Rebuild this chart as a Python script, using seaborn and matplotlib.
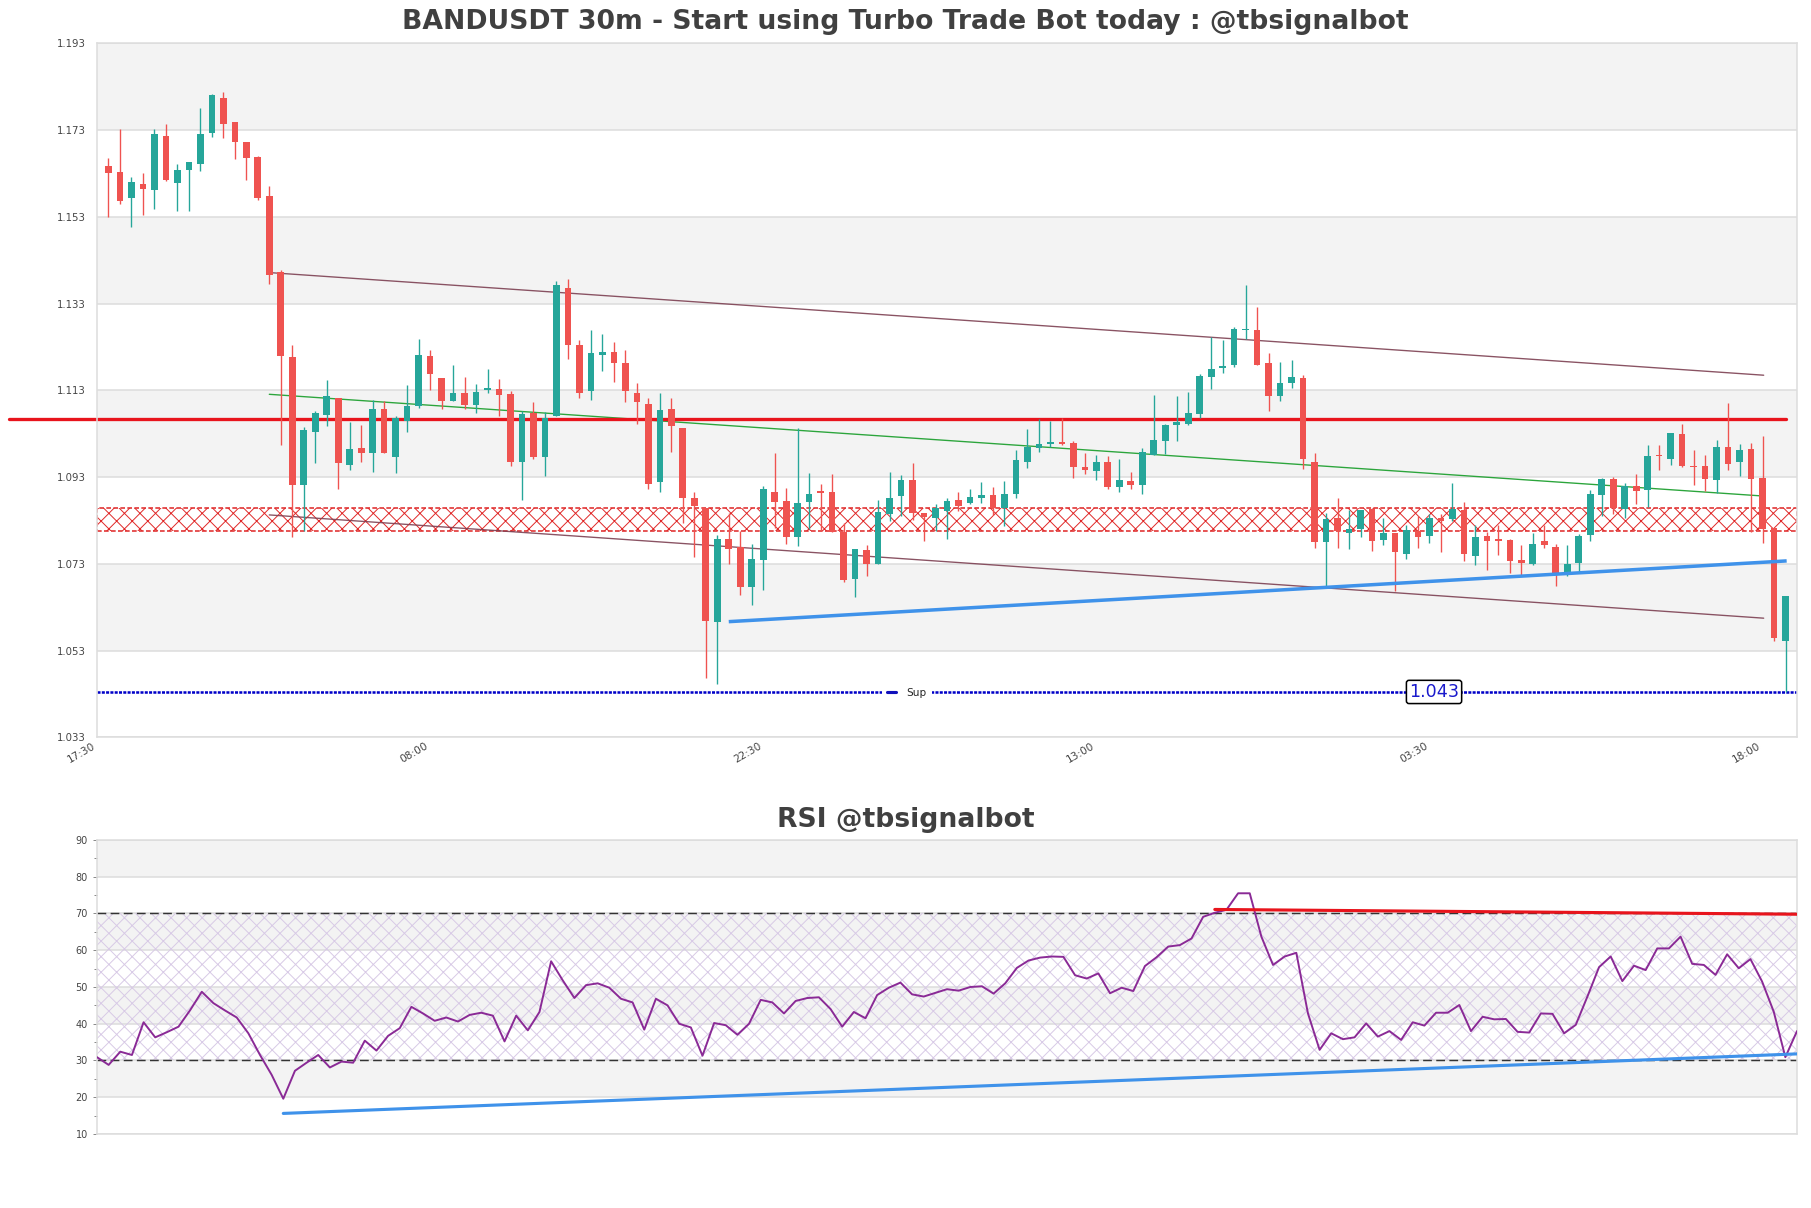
import numpy as np
import matplotlib
matplotlib.use("Agg")
import matplotlib.pyplot as plt
import seaborn as sns
from matplotlib.lines import Line2D

# ---------------- data ----------------
opens = [1.1648,1.1634,1.1574,1.1605,1.1592,1.1717,1.1608,1.1638,1.1652,1.1724,
         1.1803,1.1748,1.1702,1.1669,1.1579,1.1404,1.1208,1.0912,1.1033,1.1073,
         1.1113,1.0958,1.0998,1.0985,1.1086,1.0977,1.1060,1.1093,1.1209,1.1159,
         1.1106,1.1125,1.1096,1.1132,1.1133,1.1121,1.0966,1.1077,1.0977,1.1071,
         1.1365,1.1234,1.1129,1.1212,1.1219,1.1194,1.1125,1.1098,1.0919,1.1088,
         1.1044,1.0883,1.0858,1.0597,1.0787,1.0768,1.0676,1.0739,1.0895,1.0874,
         1.0792,1.0873,1.0898,1.0895,1.0804,1.0695,1.0762,1.0729,1.0845,1.0887,
         1.0923,1.0847,1.0835,1.0852,1.0877,1.0870,1.0881,1.0888,1.0860,1.0891,
         1.0964,1.0998,1.1007,1.1012,1.1008,1.0954,1.0944,1.0966,1.0908,1.0921,
         1.0912,1.0981,1.1014,1.1050,1.1052,1.1075,1.1162,1.1182,1.1189,1.1269,
         1.1269,1.1193,1.1117,1.1148,1.1158,1.0964,1.0781,1.0835,1.0802,1.0810,
         1.0856,1.0785,1.0802,1.0754,1.0805,1.0795,1.0836,1.0833,1.0855,1.0748,
         1.0794,1.0787,1.0786,1.0738,1.0731,1.0783,1.0769,1.0709,1.0733,1.0796,
         1.0890,1.0926,1.0857,1.0910,1.0900,1.0980,1.0971,1.1030,1.0956,1.0956,
         1.0923,1.1000,1.0965,1.0996,1.0929,1.0813,1.0552]
highs = [1.1665,1.1732,1.1621,1.1632,1.1732,1.1745,1.1651,1.1657,1.1780,1.1814,
         1.1817,1.1748,1.1702,1.1671,1.1602,1.1407,1.1235,1.1046,1.1082,1.1153,
         1.1113,1.1058,1.1050,1.1108,1.1106,1.1072,1.1142,1.1248,1.1223,1.1159,
         1.1188,1.1162,1.1144,1.1179,1.1156,1.1129,1.1083,1.1104,1.1080,1.1381,
         1.1386,1.1246,1.1269,1.1259,1.1242,1.1222,1.1148,1.1113,1.1125,1.1113,
         1.1044,1.0895,1.0858,1.0797,1.0848,1.0806,1.0775,1.0910,1.0985,1.0906,
         1.1044,1.0939,1.0915,1.0937,1.0825,1.0765,1.0773,1.0877,1.0942,1.0935,
         1.0962,1.0848,1.0868,1.0883,1.0895,1.0902,1.0918,1.0908,1.0921,1.0992,
         1.1042,1.1065,1.1060,1.1067,1.1014,1.0985,1.0982,1.0979,1.0971,1.0942,
         1.0998,1.1119,1.1052,1.1117,1.1127,1.1167,1.1253,1.1246,1.1275,1.1373,
         1.1323,1.1217,1.1196,1.1200,1.1165,1.0985,1.0848,1.0881,1.0855,1.0854,
         1.0858,1.0835,1.0802,1.0819,1.0841,1.0845,1.0846,1.0917,1.0873,1.0819,
         1.0804,1.0819,1.0788,1.0773,1.0802,1.0819,1.0777,1.0773,1.0798,1.0901,
         1.0929,1.0930,1.0917,1.0938,1.1005,1.1005,1.1032,1.1053,1.0992,1.0982,
         1.1016,1.1102,1.1007,1.1009,1.1025,1.0813,1.0656]
lows = [1.1530,1.1560,1.1506,1.1534,1.1548,1.1612,1.1543,1.1543,1.1636,1.1714,
        1.1711,1.1663,1.1615,1.1569,1.1376,1.1004,1.0791,1.0806,1.0962,1.1048,
        1.0903,1.0947,1.0966,1.0943,1.0985,1.0939,1.1035,1.1090,1.1131,1.1087,
        1.1106,1.1088,1.1077,1.1123,1.1071,1.0956,1.0878,1.0973,1.0933,1.1071,
        1.1202,1.1113,1.1107,1.1175,1.1150,1.1103,1.1052,1.0902,1.0896,1.0988,
        1.0825,1.0747,1.0468,1.0454,1.0729,1.0658,1.0636,1.0671,1.0812,1.0775,
        1.0772,1.0810,1.0806,1.0803,1.0689,1.0654,1.0703,1.0729,1.0829,1.0841,
        1.0832,1.0783,1.0806,1.0787,1.0852,1.0868,1.0871,1.0842,1.0818,1.0881,
        1.0950,1.0988,1.1000,1.1004,1.0927,1.0938,1.0924,1.0902,1.0895,1.0902,
        1.0892,1.0981,1.0983,1.1014,1.1050,1.1067,1.1133,1.1169,1.1185,1.1249,
        1.1189,1.1083,1.1106,1.1135,1.0948,1.0766,1.0676,1.0766,1.0764,1.0791,
        1.0760,1.0774,1.0668,1.0741,1.0766,1.0778,1.0757,1.0830,1.0736,1.0728,
        1.0715,1.0750,1.0708,1.0705,1.0727,1.0767,1.0679,1.0702,1.0708,1.0784,
        1.0840,1.0846,1.0836,1.0869,1.0861,1.0946,1.0959,1.0953,1.0911,1.0897,
        1.0894,1.0946,1.0932,1.0804,1.0778,1.0552,1.0435]
closes = [1.1631,1.1566,1.1611,1.1594,1.1720,1.1615,1.1639,1.1657,1.1722,1.1811,
          1.1744,1.1703,1.1666,1.1574,1.1396,1.1210,1.0912,1.1039,1.1077,1.1116,
          1.0962,1.0994,1.0985,1.1086,1.0985,1.1066,1.1095,1.1212,1.1167,1.1106,
          1.1125,1.1096,1.1127,1.1136,1.1119,1.0966,1.1075,1.0977,1.1066,1.1372,
          1.1234,1.1125,1.1216,1.1219,1.1193,1.1129,1.1103,1.0914,1.1084,1.1048,
          1.0883,1.0864,1.0599,1.0787,1.0764,1.0676,1.0742,1.0902,1.0873,1.0792,
          1.0871,1.0892,1.0894,1.0804,1.0693,1.0764,1.0729,1.0850,1.0883,1.0923,
          1.0847,1.0838,1.0860,1.0874,1.0864,1.0885,1.0890,1.0860,1.0891,1.0969,
          1.1000,1.1007,1.1010,1.1006,1.0954,1.0947,1.0965,1.0908,1.0923,1.0913,
          1.0987,1.1015,1.1050,1.1057,1.1077,1.1163,1.1179,1.1186,1.1271,1.1271,
          1.1189,1.1117,1.1146,1.1160,1.0971,1.0781,1.0833,1.0805,1.0810,1.0854,
          1.0783,1.0802,1.0758,1.0808,1.0793,1.0835,1.0830,1.0857,1.0752,1.0792,
          1.0782,1.0784,1.0736,1.0732,1.0777,1.0773,1.0709,1.0731,1.0794,1.0892,
          1.0926,1.0859,1.0910,1.0897,1.0979,1.0978,1.1032,1.0955,1.0954,1.0925,
          1.1000,1.0960,1.0993,1.0925,1.0811,1.0559,1.0656]

rsi_values = [30.9,28.8,32.4,31.5,40.4,36.3,37.7,39.2,43.7,48.7,
              45.6,43.6,41.7,37.4,31.5,26.1,19.6,27.2,29.4,31.5,
              28.1,29.7,29.4,35.4,32.7,36.7,38.8,44.6,42.8,40.8,
              41.7,40.6,42.4,43.0,42.2,35.2,42.2,38.2,43.2,57.0,
              51.8,47.0,50.5,51.0,49.8,46.8,45.8,38.4,46.8,45.0,
              40.0,39.0,31.3,40.2,39.6,37.0,40.0,46.5,45.8,42.8,
              46.2,47.0,47.2,44.0,39.2,43.2,41.5,47.8,49.8,51.2,
              48.0,47.4,48.4,49.4,49.0,50.0,50.2,48.2,51.0,55.2,
              57.2,58.0,58.3,58.2,53.2,52.3,53.7,48.3,49.8,48.9,
              55.7,58.1,61.0,61.4,63.2,69.1,70.2,71.0,75.5,75.5,
              63.7,56.0,58.3,59.3,42.8,32.9,37.4,35.8,36.3,40.1,
              36.5,38.0,35.6,40.4,39.5,43.0,43.0,45.1,38.0,41.9,
              41.2,41.3,37.8,37.6,42.8,42.7,37.4,39.7,47.4,55.4,
              58.3,51.6,55.8,54.6,60.5,60.5,63.7,56.3,56.0,53.3,
              58.9,55.1,57.6,51.5,43.3,30.9,38.0]

time_labels = ["17:30", "08:00", "22:30", "13:00", "03:30", "18:00"]
time_label_index = [0, 29, 58, 87, 116, 145]
price_ticks = [1.033, 1.053, 1.073, 1.093, 1.113, 1.133, 1.153, 1.173, 1.193]
rsi_ticks = [10, 20, 30, 40, 50, 60, 70, 80, 90]

resistance_level = 1.1064
resistance_x = [-7.7, 147.0]
support_level = 1.0435
support_label = "1.043"
support_label_x = 116.4
zone_low, zone_high = 1.0805, 1.0860
channel_upper_x, channel_upper_y = [15.3, 145.1], [1.1401, 1.1165]
channel_lower_x, channel_lower_y = [15.0, 145.1], [1.0843, 1.0605]
green_trend_x, green_trend_y = [15.0, 144.8], [1.1121, 1.0887]
blue_trend_x, blue_trend_y = [55.0, 147.1], [1.0597, 1.0737]
rsi_res_x, rsi_res_y = [96.0, 146.0], [71.1, 69.8]
rsi_sup_x, rsi_sup_y = [16.0, 146.0], [15.6, 31.8]

# ---------------- style ----------------
sns.set_theme(style="white")
plt.rcParams["font.family"] = ["DejaVu Sans"]
plt.rcParams["hatch.linewidth"] = 0.5

GREEN = "#26a69a"
RED = "#ef5350"
BAND = "#f3f3f3"
GRID = "#dddddd"
TXT = "#444444"

fig = plt.figure(figsize=(1811 / 140, 1208 / 140), dpi=140)
ax = fig.add_axes([0.05356, 0.38949, 0.93871, 0.57467])
ax2 = fig.add_axes([0.05356, 0.06126, 0.93871, 0.24338])

# ---------------- main price chart ----------------
o = np.array(opens); h = np.array(highs); l = np.array(lows); c = np.array(closes)
x = np.arange(1, len(o) + 1)
cols = np.where(c >= o, GREEN, RED)

for lo_, hi_ in zip(price_ticks[:-1], price_ticks[1:]):
    if round((hi_ - 1.033) / 0.02) % 2 == 0:
        ax.axhspan(lo_, hi_, color=BAND, lw=0, zorder=0)

ax.axhspan(zone_low, zone_high, facecolor="none", edgecolor="#e02828",
           hatch="xxx", lw=0.8, ls=(0, (3, 1.5)), zorder=1.2)

ax.plot(channel_upper_x, channel_upper_y, color="#7d4052", lw=0.7, alpha=0.9, zorder=2)
ax.plot(channel_lower_x, channel_lower_y, color="#7d4052", lw=0.7, alpha=0.9, zorder=2)
ax.plot(green_trend_x, green_trend_y, color="#2ca53c", lw=0.7, zorder=2)
ax.axhline(support_level, color="#0000c8", lw=1.3, ls=(0, (1.2, 0.5)), zorder=2)

ax.vlines(x, l, h, colors=cols, lw=0.7, zorder=3)
ax.bar(x, np.maximum(np.abs(c - o), 0.00018), bottom=np.minimum(o, c),
       width=0.58, color=cols, lw=0, zorder=4)

ax.plot(resistance_x, [resistance_level, resistance_level], color="#e8141c",
        lw=1.7, zorder=2.5, clip_on=False)
ax.plot(blue_trend_x, blue_trend_y, color="#3f92ea", lw=1.8, zorder=5,
        solid_capstyle="butt")

ax.text(support_label_x, support_level, support_label, color="#1a1acc",
        fontsize=9, ha="center", va="center", zorder=6,
        bbox=dict(boxstyle="round,pad=0.15", fc="white", ec="black", lw=0.8))

leg = ax.legend(handles=[Line2D([0], [0], color="#1010bb", lw=1.6)], labels=["Sup"],
                loc="center", bbox_to_anchor=(0.4763, 0.0641), fontsize=5.4,
                frameon=True, handlelength=0.9, handletextpad=1.0,
                borderpad=0.45, borderaxespad=0, fancybox=False)
leg.get_frame().set_facecolor("white")
leg.get_frame().set_edgecolor("none")
leg.get_frame().set_alpha(1)
leg.set_zorder(7)

ax.set_xlim(0, 148)
ax.set_ylim(price_ticks[0], price_ticks[-1])
ax.set_yticks(price_ticks)
ax.set_yticklabels([f"{v:.3f}" for v in price_ticks])
ax.set_xticks(time_label_index)
ax.set_xticklabels(time_labels, rotation=30, ha="right")
ax.tick_params(axis="y", length=0, pad=6, labelsize=5.2, labelcolor=TXT)
ax.tick_params(axis="x", length=0, pad=1.5, labelsize=5.4, labelcolor=TXT)
ax.grid(axis="y", color=GRID, lw=0.8)
ax.grid(axis="x", visible=False)
ax.set_axisbelow(True)
for s in ax.spines.values():
    s.set_color(GRID)
    s.set_linewidth(0.8)

# ---------------- RSI panel ----------------
for lo_ in [20, 40, 60, 80]:
    ax2.axhspan(lo_, lo_ + 10, color=BAND, lw=0, zorder=0)
ax2.axhspan(30, 70, facecolor="none", edgecolor="#d8cae6", hatch="xxx", lw=0, zorder=0.6)
ax2.axhline(70, color="#333333", lw=0.75, ls=(0, (6, 3)), zorder=2)
ax2.axhline(30, color="#333333", lw=0.75, ls=(0, (6, 3)), zorder=2)

rsi_x = np.arange(len(rsi_values))
sns.lineplot(x=rsi_x, y=rsi_values, ax=ax2, color="#8a2a96", lw=1.0, zorder=3)
ax2.plot(rsi_res_x, rsi_res_y, color="#e8141c", lw=1.6, zorder=4)
ax2.plot(rsi_sup_x, rsi_sup_y, color="#3f92ea", lw=1.6, zorder=4)

ax2.set_xlim(0, len(rsi_values) - 1)
ax2.set_ylim(rsi_ticks[0], rsi_ticks[-1])
ax2.set_yticks(rsi_ticks)
ax2.set_yticks(np.arange(15, 90, 10), minor=True)
ax2.set_xticks([])
ax2.set_xlabel("")
ax2.set_ylabel("")
ax2.tick_params(axis="y", which="major", left=True, length=2.2, width=0.5,
                color="#888888", pad=2.5, labelsize=5.0, labelcolor=TXT)
ax2.tick_params(axis="y", which="minor", left=True, length=1.5, width=0.5, color="#888888")
ax2.grid(axis="y", which="major", color=GRID, lw=0.8)
ax2.set_axisbelow(True)
for s in ax2.spines.values():
    s.set_color(GRID)
    s.set_linewidth(0.8)

# ---------------- titles ----------------
fig.text(0.5, 0.9818, "BANDUSDT 30m - Start using Turbo Trade Bot today : @tbsignalbot",
         ha="center", va="center", fontsize=13.7, fontweight="bold", color="#404040")
fig.text(0.5, 0.3212, "RSI @tbsignalbot", ha="center", va="center",
         fontsize=13.7, fontweight="bold", color="#404040")

fig.savefig("out.png", dpi=140)
